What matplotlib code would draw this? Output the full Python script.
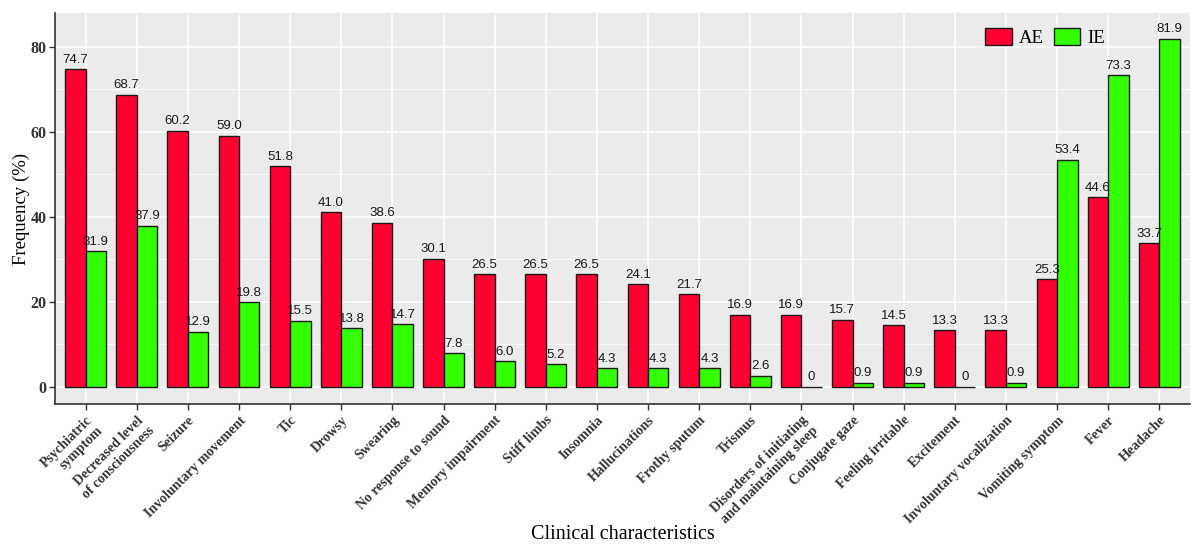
import numpy as np
import matplotlib
matplotlib.use("Agg")
import matplotlib.pyplot as plt
from matplotlib.patches import Patch
from matplotlib.transforms import ScaledTranslation

categories = [
    "Psychiatric\nsymptom", "Decreased level\nof consciousness", "Seizure",
    "Involuntary movement", "Tic", "Drowsy", "Swearing", "No response to sound",
    "Memory impairment", "Stiff limbs", "Insomnia", "Hallucinations",
    "Frothy sputum", "Trismus", "Disorders of initiating\nand maintaining sleep",
    "Conjugate gaze", "Feeling irritable", "Excitement",
    "Involuntary vocalization", "Vomiting symptom", "Fever", "Headache",
]
ae_values = [74.7, 68.7, 60.2, 59.0, 51.8, 41.0, 38.6, 30.1, 26.5, 26.5, 26.5,
             24.1, 21.7, 16.9, 16.9, 15.7, 14.5, 13.3, 13.3, 25.3, 44.6, 33.7]
ie_values = [31.9, 37.9, 12.9, 19.8, 15.5, 13.8, 14.7, 7.8, 6.0, 5.2, 4.3,
             4.3, 4.3, 2.6, 0.0, 0.9, 0.9, 0.0, 0.9, 53.4, 73.3, 81.9]
y_ticks = [0, 20, 40, 60, 80]

AE_COLOR = "#FF0033"
IE_COLOR = "#33FF00"
serif = ["Liberation Serif", "DejaVu Serif"]
sans = ["Liberation Sans", "DejaVu Sans"]

fig = plt.figure(figsize=(11.95, 5.44), dpi=100)
ax = fig.add_axes([0.046, 0.2574, 0.9498, 0.7186])
ax.set_facecolor("#EBEBEB")

x = np.arange(len(categories))
w = 0.4
ax.bar(x - w / 2, ae_values, width=w, color=AE_COLOR,
       edgecolor="#1a1a1a", linewidth=1.0, zorder=3)
ax.bar(x + w / 2, ie_values, width=w, color=IE_COLOR,
       edgecolor="#1a1a1a", linewidth=1.0, zorder=3)

for xs, vals in ((x - w / 2, ae_values), (x + w / 2, ie_values)):
    for xi, v in zip(xs, vals):
        label = "0" if v == 0 else f"{v:.1f}"
        ax.text(xi, v + 0.8, label, ha="center", va="bottom",
                fontsize=9.5, family=sans, color="#1a1a1a", zorder=4)

ax.set_xlim(-0.6, len(categories) - 0.4)
ax.set_ylim(-4.1, 87.9)
ax.set_yticks(y_ticks)
ax.set_yticks([10, 30, 50, 70], minor=True)
ax.set_xticks(x)
ax.set_xticklabels(categories, rotation=45, ha="right", va="top",
                   rotation_mode="anchor", fontsize=10, fontweight="bold",
                   family=serif, color="#333333", multialignment="right")
shift = ScaledTranslation(4 / 100, 0, fig.dpi_scale_trans)
for lab in ax.get_xticklabels():
    lab.set_transform(lab.get_transform() + shift)
for lab in ax.get_yticklabels():
    lab.set_fontsize(11.5)
    lab.set_fontweight("bold")
    lab.set_family(serif)
    lab.set_color("#333333")

ax.grid(which="major", color="white", linewidth=1.1, zorder=0)
ax.grid(which="minor", axis="y", color="white", linewidth=0.55, zorder=0)
ax.set_axisbelow(True)
ax.tick_params(axis="both", which="major", direction="out", length=4,
               width=1.0, color="#333333")
ax.tick_params(axis="x", pad=3)
ax.tick_params(axis="y", pad=2)
ax.tick_params(axis="y", which="minor", length=0)

for side in ("top", "right"):
    ax.spines[side].set_visible(False)
for side in ("left", "bottom"):
    ax.spines[side].set_color("#333333")
    ax.spines[side].set_linewidth(1.2)

ax.set_ylabel("Frequency (%)", fontsize=13.5, family=serif)
ax.yaxis.set_label_coords(-0.022, 0.5)
ax.set_xlabel("Clinical characteristics", fontsize=14.5, family=serif)
ax.xaxis.set_label_coords(0.5, -0.31)

handles = [Patch(facecolor=AE_COLOR, edgecolor="#1a1a1a", label="AE"),
           Patch(facecolor=IE_COLOR, edgecolor="#1a1a1a", label="IE")]
ax.legend(handles=handles, loc="upper right", bbox_to_anchor=(0.94, 1.005),
          ncol=2, frameon=False, prop={"family": serif, "size": 13.5},
          handlelength=1.4, handleheight=1.0, columnspacing=0.5,
          handletextpad=0.4)

fig.savefig("out.png", dpi=100, facecolor="white")
